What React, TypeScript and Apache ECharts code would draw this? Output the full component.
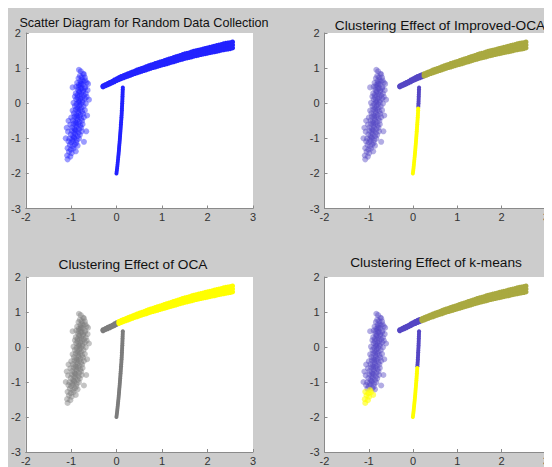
import React, { useEffect, useRef } from "react";
import * as echarts from "echarts";

const xTicks = [-2, -1, 0, 1, 2, 3];
const yTicks = [-3, -2, -1, 0, 1, 2];
const panelTitles = [
  "Scatter Diagram for Random Data Collection",
  "Clustering Effect of Improved-OCA",
  "Clustering Effect of OCA",
  "Clustering Effect of k-means",
];

// elongated blob of points
const blobPoints: [number, number][] = [
  [-0.79, 0.91], [-0.74, 0.84], [-0.81, 0.78], [-0.72, 0.82], [-0.83, 0.95], [-0.77, 0.74],
  [-0.84, 0.71], [-0.76, 0.67], [-0.7, 0.73], [-0.8, 0.63],
  [-0.87, 0.58], [-0.79, 0.57], [-0.73, 0.62], [-0.66, 0.59], [-0.83, 0.52],
  [-0.89, 0.47], [-0.8, 0.49], [-0.75, 0.53], [-0.69, 0.46], [-0.77, 0.43],
  [-0.85, 0.38], [-0.79, 0.41], [-0.74, 0.36], [-0.7, 0.42], [-0.64, 0.37], [-0.82, 0.33],
  [-0.9, 0.28], [-0.83, 0.31], [-0.78, 0.26], [-0.74, 0.32], [-0.68, 0.27], [-0.86, 0.23],
  [-0.92, 0.19], [-0.86, 0.16], [-0.81, 0.21], [-0.77, 0.17], [-0.72, 0.22], [-0.66, 0.18],
  [-0.89, 0.11], [-0.84, 0.07], [-0.8, 0.12], [-0.75, 0.08], [-0.7, 0.13], [-0.82, 0.03],
  [-0.95, 0.01], [-0.88, -0.02], [-0.84, 0.02], [-0.79, -0.03], [-0.75, 0.03], [-0.68, -0.01],
  [-0.92, -0.08], [-0.87, -0.12], [-0.82, -0.07], [-0.78, -0.13], [-0.73, -0.09], [-0.85, -0.16],
  [-0.97, -0.21], [-0.9, -0.18], [-0.85, -0.23], [-0.81, -0.19], [-0.76, -0.24], [-0.7, -0.2],
  [-0.94, -0.29], [-0.89, -0.33], [-0.84, -0.28], [-0.8, -0.34], [-0.74, -0.3], [-0.87, -0.37],
  [-1.0, -0.41], [-0.93, -0.38], [-0.88, -0.43], [-0.83, -0.39], [-0.78, -0.44], [-0.72, -0.4],
  [-0.96, -0.49], [-0.91, -0.53], [-0.86, -0.48], [-0.82, -0.54], [-0.76, -0.5], [-0.89, -0.57],
  [-1.02, -0.61], [-0.95, -0.58], [-0.9, -0.63], [-0.85, -0.59], [-0.8, -0.64], [-0.75, -0.6],
  [-0.98, -0.69], [-0.93, -0.73], [-0.88, -0.68], [-0.83, -0.74], [-0.78, -0.7], [-0.91, -0.77],
  [-1.07, -0.81], [-0.99, -0.78], [-0.94, -0.83], [-0.89, -0.79], [-0.84, -0.84], [-0.77, -0.8],
  [-1.01, -0.89], [-0.96, -0.93], [-0.91, -0.88], [-0.86, -0.94], [-0.81, -0.9], [-0.94, -0.97],
  [-1.04, -1.01], [-0.98, -1.04], [-0.93, -0.99], [-0.88, -1.05], [-0.83, -1.01],
  [-1.06, -1.09], [-1.0, -1.12], [-0.95, -1.08], [-0.89, -1.13],
  [-1.03, -1.19], [-0.97, -1.23], [-0.92, -1.18], [-0.86, -1.21],
  [-1.08, -1.28], [-1.01, -1.32], [-0.95, -1.29],
  [-1.05, -1.38], [-0.99, -1.42], [-0.9, -1.37],
  [-1.09, -1.49], [-1.02, -1.52],
  [-1.08, -1.6],
  [-0.63, 0.55], [-0.67, -0.8], [-1.1, -0.7], [-0.61, 0.1], [-0.97, 0.45], [-1.12, -1.0], [-0.72, -1.1],
  [-0.84, 0.45], [-0.78, 0.55], [-0.65, -0.35], [-1.06, -0.5], [-0.69, 0.65],
];

// curved band: centre line and half thickness
const curveX = [-0.3, -0.25, -0.2, -0.15, -0.1, -0.05, 0.0, 0.05, 0.1, 0.15, 0.2, 0.25, 0.3, 0.35, 0.4, 0.45, 0.5, 0.55, 0.6, 0.65, 0.7, 0.75, 0.8, 0.85, 0.9, 0.95, 1.0, 1.05, 1.1, 1.15, 1.2, 1.25, 1.3, 1.35, 1.4, 1.45, 1.5, 1.55, 1.6, 1.65, 1.7, 1.75, 1.8, 1.85, 1.9, 1.95, 2.0, 2.05, 2.1, 2.15, 2.2, 2.25, 2.3, 2.35, 2.4, 2.45, 2.5, 2.55];
const curveMid = [0.48, 0.51, 0.54, 0.57, 0.6, 0.635, 0.67, 0.7, 0.73, 0.755, 0.78, 0.805, 0.83, 0.855, 0.88, 0.905, 0.93, 0.95, 0.97, 0.995, 1.02, 1.04, 1.06, 1.08, 1.1, 1.12, 1.14, 1.16, 1.18, 1.2, 1.22, 1.24, 1.26, 1.28, 1.3, 1.32, 1.34, 1.355, 1.37, 1.39, 1.41, 1.425, 1.44, 1.455, 1.47, 1.485, 1.5, 1.515, 1.53, 1.545, 1.56, 1.575, 1.59, 1.605, 1.62, 1.63, 1.64, 1.66];
const curveHalf = [0.015, 0.015, 0.02, 0.02, 0.02, 0.025, 0.025, 0.03, 0.03, 0.03, 0.03, 0.035, 0.035, 0.035, 0.035, 0.04, 0.04, 0.04, 0.04, 0.045, 0.045, 0.045, 0.045, 0.05, 0.05, 0.05, 0.05, 0.055, 0.055, 0.055, 0.055, 0.06, 0.06, 0.06, 0.06, 0.065, 0.065, 0.065, 0.065, 0.07, 0.07, 0.07, 0.07, 0.07, 0.07, 0.075, 0.075, 0.075, 0.075, 0.08, 0.08, 0.08, 0.08, 0.085, 0.085, 0.085, 0.085, 0.085];

// near-vertical stem
const stemY = [-2.0, -1.95, -1.9, -1.85, -1.8, -1.75, -1.7, -1.65, -1.6, -1.55, -1.5, -1.45, -1.4, -1.35, -1.3, -1.25, -1.2, -1.15, -1.1, -1.05, -1.0, -0.95, -0.9, -0.85, -0.8, -0.75, -0.7, -0.65, -0.6, -0.55, -0.5, -0.45, -0.4, -0.35, -0.3, -0.25, -0.2, -0.15, -0.1, -0.05, 0.0, 0.05, 0.1, 0.15, 0.2, 0.25, 0.3, 0.35, 0.4, 0.45];
const stemX = [-0.005, 0.0, 0.005, 0.01, 0.014, 0.018, 0.022, 0.026, 0.03, 0.034, 0.038, 0.042, 0.045, 0.049, 0.052, 0.055, 0.058, 0.062, 0.065, 0.068, 0.071, 0.074, 0.077, 0.08, 0.083, 0.086, 0.088, 0.091, 0.094, 0.097, 0.1, 0.103, 0.105, 0.108, 0.11, 0.112, 0.114, 0.116, 0.118, 0.12, 0.122, 0.124, 0.125, 0.127, 0.128, 0.13, 0.131, 0.132, 0.134, 0.135];

// cluster boundaries
const improvedCurveSplitX = 0.23;
const improvedStemSplitY = -0.14;
const ocaCurveSplitX = 0.03;
const kmeansCurveSplitX = 0.15;
const kmeansStemSplitY = -0.55;
const kmeansBlobSplitY = -1.22;

const BLUE = "#2222ff";
const PURPLE = "#5546c4";
const OLIVE = "#a9a940";
const YELLOW = "#ffff00";
const GRAY = "#7c7c7c";

const curvePoints: [number, number][] = [];
curveX.forEach((x, i) => {
  curvePoints.push([x, curveMid[i] + curveHalf[i]]);
  curvePoints.push([x, curveMid[i]]);
  curvePoints.push([x, curveMid[i] - curveHalf[i]]);
});
const stemPoints: [number, number][] = stemY.map((y, i) => [stemX[i], y]);

const grids = [
  { left: 16.5, top: 25, width: 228.5, height: 175.5 },
  { left: 316.5, top: 25, width: 229, height: 175.5 },
  { left: 16.5, top: 269, width: 228.5, height: 175 },
  { left: 316.5, top: 269, width: 229, height: 175 },
];
const titlePos = [
  { x: 136, y: 15, size: 12.6 },
  { x: 432, y: 17, size: 13.7 },
  { x: 125, y: 256, size: 13.7 },
  { x: 428, y: 254, size: 13.7 },
];

function sc(g: number, data: [number, number][], color: string, size: number, opacity: number) {
  return {
    type: "scatter",
    xAxisIndex: g,
    yAxisIndex: g,
    data,
    symbol: "circle",
    symbolSize: size,
    itemStyle: { color, opacity, borderWidth: 0 },
    silent: true,
  };
}

export default function App() {
  const ref = useRef<HTMLDivElement>(null);
  useEffect(() => {
    if (!ref.current) return;
    const chart = echarts.init(ref.current, null, { renderer: "svg" });
    const axisCommon = {
      axisLine: { show: true, onZero: false, lineStyle: { color: "#8a8a8a", width: 1 } },
      axisTick: { show: true, inside: true, length: 3, lineStyle: { color: "#8a8a8a" } },
      splitLine: { show: false },
    };
    const xAxis = grids.map((_, i) => ({
      type: "value",
      gridIndex: i,
      min: xTicks[0],
      max: xTicks[xTicks.length - 1],
      interval: 1,
      ...axisCommon,
      axisLabel: { color: "#333", fontSize: 11, fontFamily: "Liberation Sans", margin: 3 },
    }));
    const yAxis = grids.map((_, i) => ({
      type: "value",
      gridIndex: i,
      min: yTicks[0],
      max: yTicks[yTicks.length - 1],
      interval: 1,
      ...axisCommon,
      axisLabel: { color: "#333", fontSize: 11, fontFamily: "Liberation Sans", margin: 5, padding: [4, 0, 0, 0] },
    }));

    const series: any[] = [];
    // panel 0: raw data
    series.push(sc(0, blobPoints, BLUE, 6, 0.45));
    series.push(sc(0, curvePoints, BLUE, 5, 1));
    series.push(sc(0, stemPoints, BLUE, 4, 1));
    // panel 1: improved OCA
    series.push(sc(1, blobPoints, PURPLE, 6, 0.45));
    series.push(sc(1, curvePoints.filter((p) => p[0] <= improvedCurveSplitX), PURPLE, 5, 1));
    series.push(sc(1, curvePoints.filter((p) => p[0] > improvedCurveSplitX), OLIVE, 5, 1));
    series.push(sc(1, stemPoints.filter((p) => p[1] >= improvedStemSplitY), PURPLE, 4, 1));
    series.push(sc(1, stemPoints.filter((p) => p[1] < improvedStemSplitY), YELLOW, 4, 1));
    // panel 2: OCA
    series.push(sc(2, blobPoints, GRAY, 6, 0.45));
    series.push(sc(2, curvePoints.filter((p) => p[0] <= ocaCurveSplitX), GRAY, 5, 1));
    series.push(sc(2, curvePoints.filter((p) => p[0] > ocaCurveSplitX), YELLOW, 5, 1));
    series.push(sc(2, stemPoints, GRAY, 4, 1));
    // panel 3: k-means
    series.push(sc(3, blobPoints.filter((p) => p[1] >= kmeansBlobSplitY), PURPLE, 6, 0.45));
    series.push(sc(3, blobPoints.filter((p) => p[1] < kmeansBlobSplitY), YELLOW, 6, 0.6));
    series.push(sc(3, curvePoints.filter((p) => p[0] <= kmeansCurveSplitX), PURPLE, 5, 1));
    series.push(sc(3, curvePoints.filter((p) => p[0] > kmeansCurveSplitX), OLIVE, 5, 1));
    series.push(sc(3, stemPoints.filter((p) => p[1] >= kmeansStemSplitY), PURPLE, 4, 1));
    series.push(sc(3, stemPoints.filter((p) => p[1] < kmeansStemSplitY), YELLOW, 4, 1));

    chart.setOption({
      animation: false,
      backgroundColor: "#cccccc",
      grid: grids.map((g) => ({ ...g, show: true, backgroundColor: "#ffffff", borderWidth: 0 })),
      xAxis,
      yAxis,
      series,
      graphic: panelTitles.map((t, i) => ({
        type: "text",
        x: titlePos[i].x,
        y: titlePos[i].y,
        style: {
          text: t,
          fill: "#111",
          font: `${titlePos[i].size}px "Liberation Sans", Arial, sans-serif`,
          textAlign: "center",
          textVerticalAlign: "middle",
        },
        z: 10,
      })),
    });
    return () => chart.dispose();
  }, []);
  return <div ref={ref} style={{ width: 544, height: 459 }} />;
}
